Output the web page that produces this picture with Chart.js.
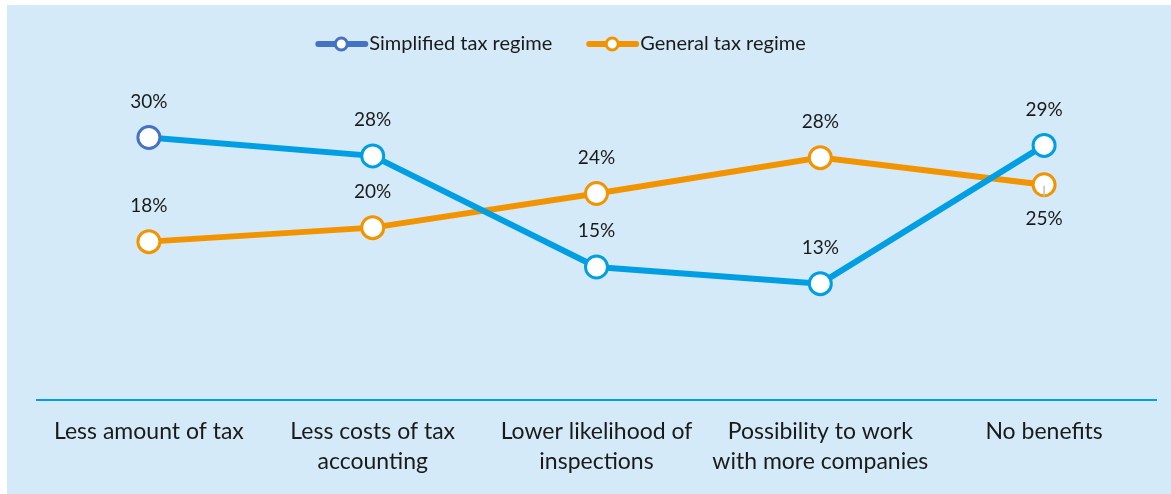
<!DOCTYPE html>
<html>
<head>
<meta charset="utf-8">
<script src="https://cdn.jsdelivr.net/npm/chart.js@4.4.1/dist/chart.umd.min.js"></script>
<style>
  body { margin: 0; background: #fff; }
  #panel { position: absolute; left: 7px; top: 5px; width: 1164px; height: 489px; background: #D5EAF8; }
</style>
</head>
<body>
<div id="panel"><canvas id="grafico" width="1164" height="489"></canvas></div>
<script>
// datos (en %)
const categorias = [
  'Less amount of tax',
  ['Less costs of tax', 'accounting'],
  ['Lower likelihood of', 'inspections'],
  ['Possibility to work', 'with more companies'],
  'No benefits'
];
const simplificado = [30.0, 27.9, 15.2, 13.3, 29.1];
const general = [18.1, 19.7, 23.6, 27.7, 24.6];

const azul = '#009FE3';
const azulLeyenda = '#4472C4';
const naranja = '#F29400';

// leyenda dibujada a mano: línea con círculo + texto
const leyenda = {
  id: 'leyenda',
  afterDraw(chart, args, opts) {
    const ctx = chart.ctx;
    ctx.save();
    ctx.font = '20px Lato';
    ctx.textBaseline = 'middle';
    const items = chart.data.datasets.map(ds => ({
      texto: ds.label,
      color: ds.colorLeyenda || ds.borderColor,
      ancho: 53 + ctx.measureText(ds.label).width
    }));
    const total = items.reduce((s, it) => s + it.ancho, 0) + opts.separacion * (items.length - 1);
    let x = opts.centroX - total / 2;
    const y = opts.y;
    items.forEach(it => {
      ctx.strokeStyle = it.color;
      ctx.lineWidth = 6;
      ctx.lineCap = 'round';
      ctx.beginPath();
      ctx.moveTo(x + 2, y);
      ctx.lineTo(x + 49, y);
      ctx.stroke();
      ctx.beginPath();
      ctx.arc(x + 25, y, 6, 0, Math.PI * 2);
      ctx.fillStyle = '#fff';
      ctx.fill();
      ctx.lineWidth = 3;
      ctx.stroke();
      ctx.fillStyle = '#1a1a1a';
      ctx.textAlign = 'left';
      ctx.fillText(it.texto, x + 53, y);
      x += it.ancho + opts.separacion;
    });
    ctx.restore();
  }
};

// etiquetas de valores sobre los puntos
const etiquetas = {
  id: 'etiquetas',
  afterDatasetsDraw(chart) {
    const ctx = chart.ctx;
    ctx.save();
    ctx.font = '19px Lato';
    ctx.fillStyle = '#1a1a1a';
    ctx.textAlign = 'center';
    ctx.textBaseline = 'middle';
    chart.data.datasets.forEach((ds, i) => {
      const meta = chart.getDatasetMeta(i);
      meta.data.forEach((p, j) => {
        const abajo = ds.abajo && ds.abajo[j];
        if (abajo) {
          ctx.strokeStyle = '#BFBFBF';
          ctx.lineWidth = 1.5;
          ctx.beginPath();
          ctx.moveTo(p.x, p.y + 1);
          ctx.lineTo(p.x, p.y + 12);
          ctx.stroke();
        }
        const y = abajo ? p.y + 34 : p.y - 36;
        ctx.fillText(Math.round(ds.data[j]) + '%', p.x, y);
      });
    });
    ctx.restore();
  }
};

new Chart(document.getElementById('grafico'), {
  type: 'line',
  data: {
    labels: categorias,
    datasets: [
      {
        label: 'Simplified tax regime',
        data: simplificado,
        borderColor: azul,
        colorLeyenda: azulLeyenda,
        borderWidth: 6,
        pointBackgroundColor: '#fff',
        pointBorderColor: [azulLeyenda, azul, azul, azul, azul],
        pointBorderWidth: 3,
        pointRadius: 11,
        tension: 0
      },
      {
        label: 'General tax regime',
        data: general,
        borderColor: naranja,
        borderWidth: 6,
        pointBackgroundColor: '#fff',
        pointBorderColor: naranja,
        pointBorderWidth: 3,
        pointRadius: 11,
        tension: 0,
        abajo: [false, false, false, false, true]
      }
    ]
  },
  options: {
    responsive: false,
    animation: false,
    layout: { padding: { left: 30, right: 15, top: 45, bottom: 0 } },
    plugins: {
      tooltip: { enabled: false },
      legend: { display: false },
      leyenda: { centroX: 554, y: 39, separacion: 35 }
    },
    scales: {
      x: {
        offset: true,
        grid: { display: false, drawTicks: false },
        border: { color: azul, width: 2 },
        afterFit(scale) { scale.height = 94; },
        ticks: {
          padding: 17,
          color: '#1a1a1a',
          maxRotation: 0,
          font: { family: 'Lato', size: 23, lineHeight: 1.3 }
        }
      },
      y: {
        display: false,
        min: 0,
        max: 40
      }
    }
  },
  plugins: [etiquetas, leyenda]
});
</script>
</body>
</html>
